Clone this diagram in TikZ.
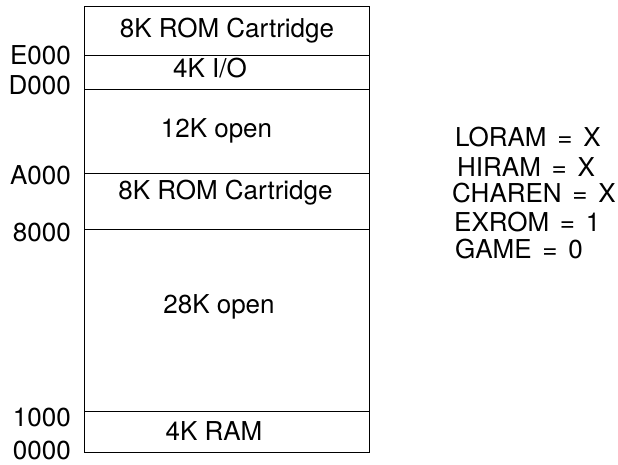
\documentclass[tikz,border=0pt]{standalone}
\usepackage{fontspec}
\setmainfont{TeX Gyre Heros}
\newcommand\eqsp{\hspace{3.5pt}}
\begin{document}
\begin{tikzpicture}[x=1pt,y=-1pt,
  region/.style={draw,line width=1.1pt,rectangle,minimum width=285pt,anchor=north west,inner sep=0pt},
  lbl/.style={font=\fontsize{26}{30}\selectfont,inner sep=0pt},
  addr/.style={lbl,anchor=base east},
  cont/.style={lbl,anchor=base},
  flag/.style={lbl,anchor=base west}]
\useasboundingbox (0,0) rectangle (618,465);
% memory regions
\node[region,minimum height=49pt] (r1) at (84,6) {};
\node[region,minimum height=34pt] (r2) at (84,55) {};
\node[region,minimum height=84pt] (r3) at (84,89) {};
\node[region,minimum height=56pt] (r4) at (84,173) {};
\node[region,minimum height=182pt] (r5) at (84,229) {};
\node[region,minimum height=41pt] (r6) at (84,411) {};
% contents
\node[cont] (t1) at (227,38) {8K ROM Cartridge};
\node[cont] (t2) at (210,78) {4K I/O};
\node[cont] (t3) at (216.5,138) {12K open};
\node[cont] (t4) at (225.5,200) {8K ROM Cartridge};
\node[cont] (t5) at (219,313) {28K open};
\node[cont] (t6) at (214,440) {4K RAM};
% addresses
\node[addr] (aE) at (71,65) {E000};
\node[addr] (aD) at (71,95) {D000};
\node[addr] (aA) at (71,185) {A000};
\node[addr] (a8) at (71,241) {8000};
\node[addr] (a1) at (71,426) {1000};
\node[addr] (a0) at (71,459.5) {0000};
% flags
\node[flag] (f1) at (455,147) {LORAM\eqsp{} =\eqsp{} X};
\node[flag] (f2) at (457,177) {HIRAM\eqsp{} =\eqsp{} X};
\node[flag] (f3) at (452,203) {CHAREN\eqsp{} =\eqsp{} X};
\node[flag] (f4) at (454,231) {EXROM\eqsp{} =\eqsp{} 1};
\node[flag] (f5) at (455,258) {GAME\eqsp{} =\eqsp{} 0};
\end{tikzpicture}
\end{document}
